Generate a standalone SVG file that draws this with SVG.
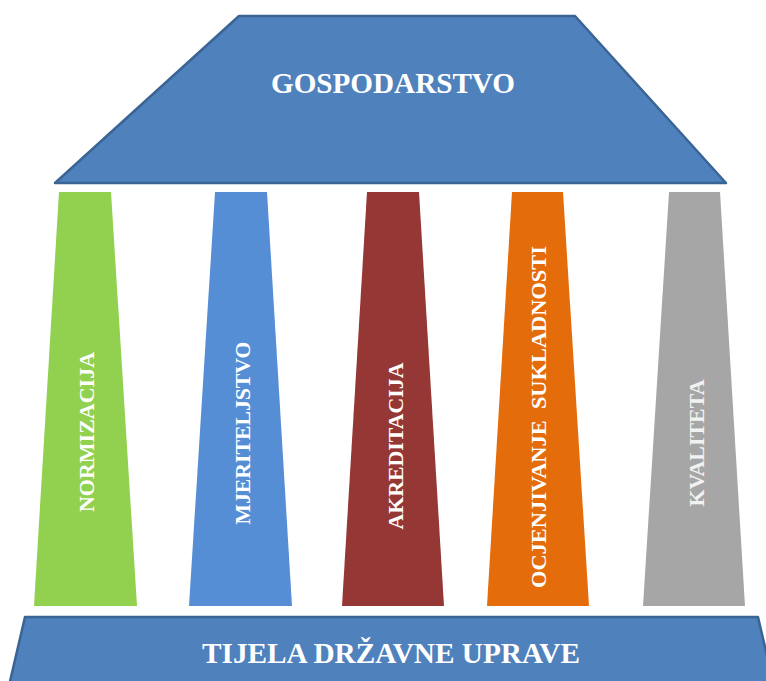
<svg xmlns="http://www.w3.org/2000/svg" width="766" height="681" viewBox="0 0 766 681">
<style>
.slab{fill:#4F81BD;stroke:#3A6493;stroke-width:2.5;stroke-linejoin:round}
.lbl{font-family:"Liberation Serif","Times New Roman",serif;font-weight:bold;fill:#FFFFFF;text-anchor:middle}
.big{font-size:30px}
.vt{font-size:22px}
</style>
<rect width="766" height="681" fill="#FFFFFF"/>
<g id="roof">
<polygon class="slab" points="239,16 575,16 726,183 55,183"/>
<text class="lbl big" x="393" y="93" textLength="244" lengthAdjust="spacingAndGlyphs">GOSPODARSTVO</text>
</g>
<g id="normizacija">
<polygon fill="#92D050" points="59,192 111,192 137,606 34,606"/>
<text class="lbl vt" transform="translate(94,432) rotate(-90)">NORMIZACIJA</text>
</g>
<g id="mjeriteljstvo">
<polygon fill="#558ED5" points="215,192 267,192 292,606 189,606"/>
<text class="lbl vt" transform="translate(250,433) rotate(-90)" textLength="183" lengthAdjust="spacingAndGlyphs">MJERITELJSTVO</text>
</g>
<g id="akreditacija">
<polygon fill="#953735" points="367,192 419,192 444,606 342,606"/>
<text class="lbl vt" transform="translate(403,446) rotate(-90)" textLength="167" lengthAdjust="spacingAndGlyphs">AKREDITACIJA</text>
</g>
<g id="ocjenjivanje">
<polygon fill="#E46C0A" points="512,192 563,192 589,606 487,606"/>
<text class="lbl vt" transform="translate(546,417) rotate(-90)" xml:space="preserve" textLength="342" lengthAdjust="spacingAndGlyphs">OCJENJIVANJE  SUKLADNOSTI</text>
</g>
<g id="kvaliteta">
<polygon fill="#A6A6A6" points="669,192 720,192 745,606 643,606"/>
<text class="lbl vt" style="fill:#F2F2F2" transform="translate(704,443) rotate(-90)" textLength="127" lengthAdjust="spacingAndGlyphs">KVALITETA</text>
</g>
<g id="base">
<polygon class="slab" points="25,617 758,617 775,690 8,690"/>
<text class="lbl big" x="391" y="663" textLength="378" lengthAdjust="spacingAndGlyphs">TIJELA DRŽAVNE UPRAVE</text>
</g>
<g id="connectors"/>
</svg>
